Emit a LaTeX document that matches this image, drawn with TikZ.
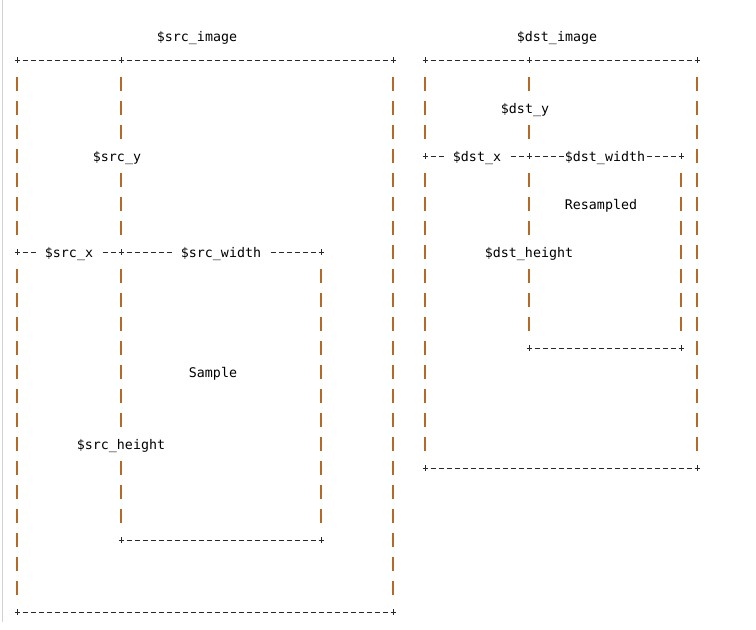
\documentclass[tikz,border=0pt]{standalone}
\usepackage{fontspec}
\setmonofont{DejaVu Sans Mono}
\usepackage{xcolor}
\definecolor{pipecol}{RGB}{180,106,38}
\definecolor{dashcol}{RGB}{40,40,40}

\begin{document}
\begin{tikzpicture}[x=1pt,y=-1pt,
    hline/.style={dashcol,line width=0.9pt,dash pattern=on 5pt off 3pt,dash phase=2.5pt},
    vline/.style={pipecol,line width=1.3pt,dash pattern=on 14pt off 10pt,shorten <=17pt,shorten >=17pt},
    plus/.style={dashcol,line width=0.9pt},
    lbl/.style={font=\ttfamily\fontsize{13.3}{16}\selectfont,anchor=base,fill=white,inner xsep=0pt,inner ysep=2pt},
    gap/.style={lbl,inner xsep=8pt}]
    \useasboundingbox (0,0) rectangle (756,630);
    %/ page rule on the left
    \draw[gray!35,line width=1.5pt] (2.5,0) -- (2.5,622);

    %/ Grid corners (column, row)
    \foreach \name/\c/\r in {
      src-nw/0/1, src-top/13/1, src-ne/47/1,
      src-w/0/9, smp-nw/13/9, smp-ne/38/9,
      smp-sw/13/21, smp-se/38/21,
      src-sw/0/24, src-se/47/24,
      dst-nw/51/1, dst-top/64/1, dst-ne/85/1,
      dst-w/51/5, rsm-nw/64/5, rsm-ne/83/5,
      rsm-sw/64/13, rsm-se/83/13,
      dst-sw/51/18, dst-se/85/18}
    \coordinate (\name) at ({17+8*\c},{36+24*\r});

    %/ Horizontal borders
    \foreach \a/\b in {src-nw/src-ne, src-w/smp-ne, smp-sw/smp-se, src-sw/src-se,
                       dst-nw/dst-ne, dst-w/rsm-ne, rsm-sw/rsm-se, dst-sw/dst-se}
    \draw[hline] (\a) -- (\b);

    %/ Vertical borders
    \foreach \a/\b in {src-nw/src-w, src-w/src-sw, src-top/smp-nw, smp-nw/smp-sw,
                       smp-ne/smp-se, src-ne/src-se,
                       dst-nw/dst-w, dst-w/dst-sw, dst-top/rsm-nw, rsm-nw/rsm-sw,
                       rsm-ne/rsm-se, dst-ne/dst-se}
    \draw[vline] (\a) -- (\b);

    %/ Plus signs at the corners
    \foreach \p in {src-nw,src-top,src-ne,src-w,smp-nw,smp-ne,smp-sw,smp-se,src-sw,src-se,
                    dst-nw,dst-top,dst-ne,dst-w,rsm-nw,rsm-ne,rsm-sw,rsm-se,dst-sw,dst-se}
    \draw[plus] (\p) ++(-2.5,0) -- ++(5,0) (\p) ++(0,-3) -- ++(0,6);

    %/ Labels
    \foreach \name/\c/\r/\txt in {
      src-title/22.5/0/\$src\_image,
      src-y/12.5/5/\$src\_y,
      sample/24.5/14/Sample,
      src-height/13/17/\$src\_height,
      dst-title/67.5/0/\$dst\_image,
      dst-y/63.5/3/\$dst\_y,
      dst-width/73.5/5/\$dst\_width,
      resampled/73/7/Resampled,
      dst-height/64/9/\$dst\_height}
    \node[lbl] (\name) at ({17+8*\c},{36+24*\r+5}) {\txt};
    \node[gap] (src-x) at ({17+8*6.5},{36+24*9+5}) {\$src\_x};
    \node[gap] (src-width) at ({17+8*25.5},{36+24*9+5}) {\$src\_width};
    \node[gap] (dst-x) at ({17+8*57.5},{36+24*5+5}) {\$dst\_x};
\end{tikzpicture}
\end{document}
